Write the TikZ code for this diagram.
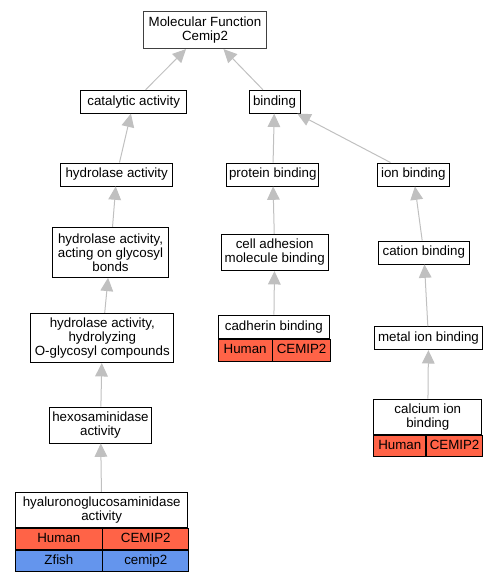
\documentclass[tikz,border=0pt]{standalone}
\usepackage{fontspec}
\setmainfont{Liberation Sans}
\usetikzlibrary{arrows.meta}
\definecolor{humanred}{RGB}{255,99,71}
\definecolor{zfishblue}{RGB}{100,149,237}
\definecolor{edgegray}{RGB}{192,192,192}
\tikzset{
  term/.style={draw, fill=white, line width=0.7pt, align=center, inner sep=0pt,
    font=\fontsize{10}{10.5}\selectfont},
  cell/.style={term, anchor=north west, text height=7.2pt, text depth=2pt},
  sz/.style 2 args={minimum width=#1*0.75pt, minimum height=#2*0.75pt},
  link/.style={draw=edgegray, line width=0.75pt, -{Triangle[length=10pt, width=9.5pt]}}
}
\begin{document}
\begin{tikzpicture}[x=0.75pt, y=-0.75pt]
    \useasboundingbox (0,0) rectangle (499,581);

    % Wurzel
    \node[term, sz={123}{36.7}, draw=black!75, line width=1.1pt] (mf) at (205,30) {Molecular Function\\Cemip2};

    % Linker Zweig
    \node[term, sz={106}{23}] (cat) at (133.7,101.7) {catalytic activity};
    \node[term, sz={112}{23}] (hyd) at (116.7,174.5) {hydrolase activity};
    \node[term, sz={115.7}{50}] (acting) at (110.5,252.3) {hydrolase activity,\\acting on glycosyl\\bonds};
    \node[term, sz={143.3}{49.3}] (hydrolyz) at (102.3,338) {hydrolase activity,\\hydrolyzing\\O-glycosyl compounds};
    \node[term, sz={102}{36}] (hexos) at (100.5,425) {hexosaminidase\\activity};
    \node[term, sz={172}{35.4}] (hyal) at (101.7,510) {hyaluronoglucosaminidase\\activity};
    \node[cell, sz={86.3}{21.3}, fill=humanred] (hyalH) at (hyal.south west) {Human};
    \node[cell, sz={85.7}{21.3}, fill=humanred] (hyalG) at (hyalH.north east) {CEMIP2};
    \node[cell, sz={86.3}{21}, fill=zfishblue] (hyalZ) at (hyalH.south west) {Zfish};
    \node[cell, sz={85.7}{21}, fill=zfishblue] (hyalZG) at (hyalZ.north east) {cemip2};

    % Mittlerer Zweig
    \node[term, sz={51}{23}] (bind) at (274.5,101.7) {binding};
    \node[term, sz={92}{23}] (prot) at (272.8,174.5) {protein binding};
    \node[term, sz={107}{36.3}] (celladh) at (274.7,252.5) {cell adhesion\\molecule binding};
    \node[term, sz={111}{23.3}] (cadh) at (273.8,326.7) {cadherin binding};
    \node[cell, sz={53.7}{21.7}, fill=humanred] (cadhH) at (cadh.south west) {Human};
    \node[cell, sz={57.3}{21.7}, fill=humanred] (cadhG) at (cadhH.north east) {CEMIP2};

    % Rechter Zweig
    \node[term, sz={72}{23}] (ion) at (413.3,174.5) {ion binding};
    \node[term, sz={91}{23}] (cation) at (423.8,252.5) {cation binding};
    \node[term, sz={108.4}{23}] (metal) at (428.5,338.2) {metal ion binding};
    \node[term, sz={107.7}{35.3}] (calc) at (427.8,416.7) {calcium ion\\binding};
    \node[cell, sz={51.7}{21.4}, fill=humanred] (calcH) at (calc.south west) {Human};
    \node[cell, sz={56}{21.4}, fill=humanred] (calcG) at (calcH.north east) {CEMIP2};

    % Kanten
    \draw[link] (cat) -- (mf);
    \draw[link] (bind) -- (mf);
    \draw[link] (hyd) -- (cat);
    \draw[link] (acting) -- (hyd);
    \draw[link] (hydrolyz) -- (acting);
    \draw[link] (hexos) -- (hydrolyz);
    \draw[link] (hyal) -- (hexos);
    \draw[link] (prot) -- (bind);
    \draw[link] (ion) -- (bind);
    \draw[link] (celladh) -- (prot);
    \draw[link] (cadh) -- (celladh);
    \draw[link] (cation) -- (ion);
    \draw[link] (metal) -- (cation);
    \draw[link] (calc) -- (metal);
\end{tikzpicture}
\end{document}
